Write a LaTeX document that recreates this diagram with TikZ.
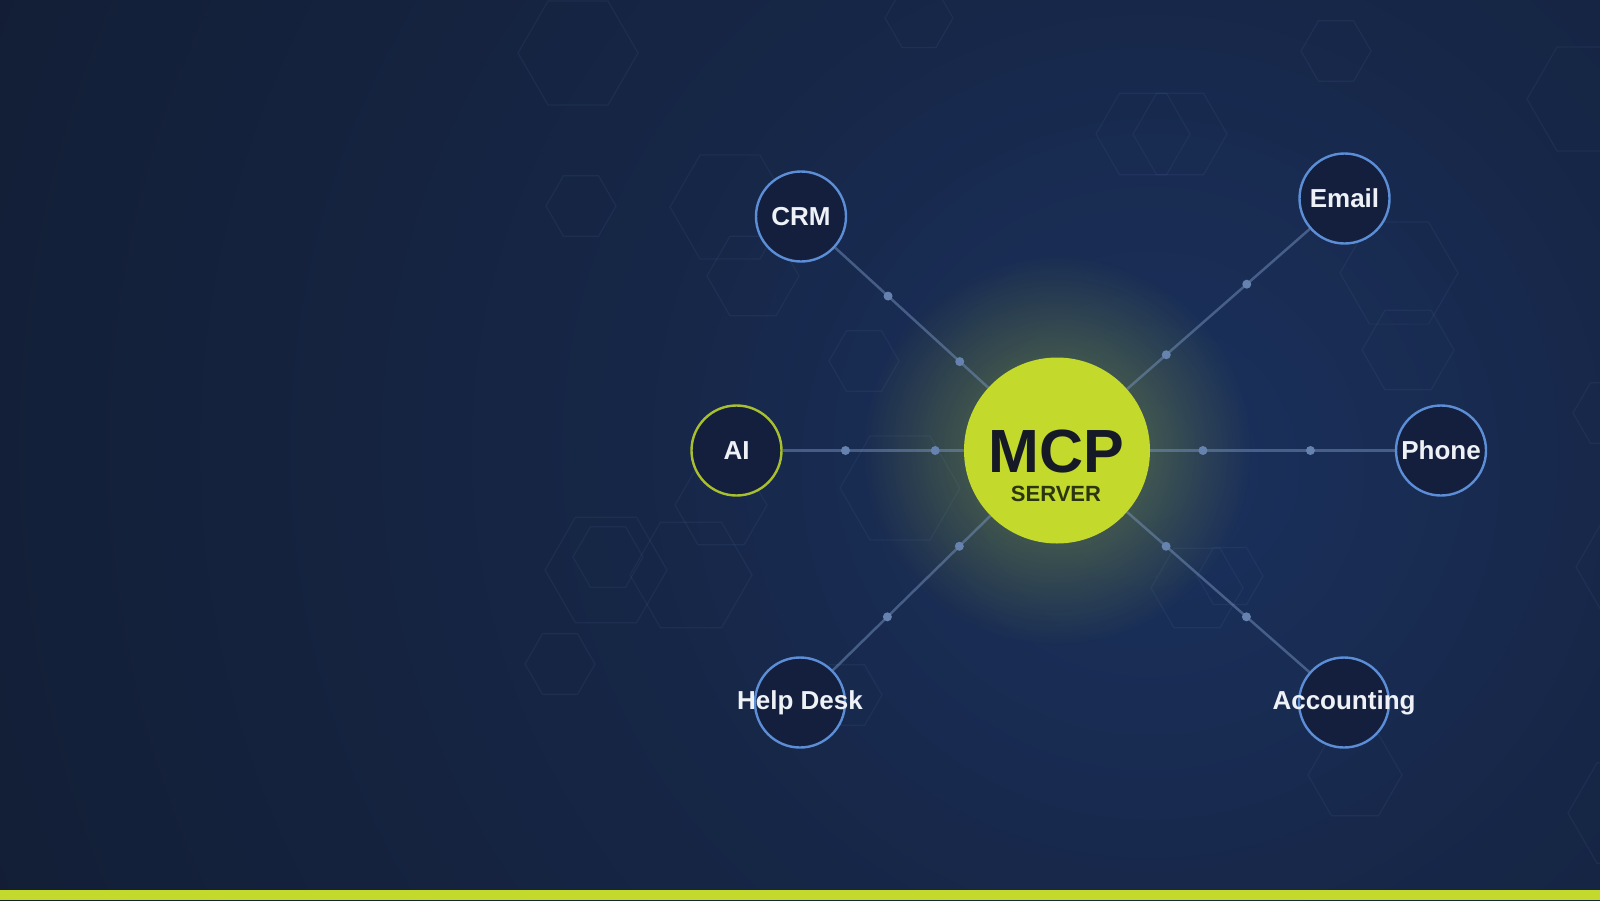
\documentclass[tikz,border=0pt]{standalone}
\usepackage{fontspec}
\setmainfont{Liberation Sans}
\usetikzlibrary{fadings,calc}
\definecolor{bgdark}{HTML}{0F1727}
\definecolor{bgmid}{HTML}{192C52}
\definecolor{bgglow}{HTML}{1D3668}
\definecolor{lime}{HTML}{C3DA2C}
\definecolor{nodefill}{HTML}{131F3D}
\definecolor{nodeblue}{HTML}{5B8ED6}
\definecolor{aiborder}{HTML}{A9C02E}
\definecolor{labelwhite}{HTML}{EEF1F6}
\definecolor{linecol}{HTML}{7F9CC8}
\definecolor{dotcol}{HTML}{6682AE}
\definecolor{hexcol}{HTML}{5B7BB0}
\definecolor{mcpdark}{HTML}{161A26}
\definecolor{srvdark}{HTML}{2B3611}
\tikzfading[name=softglow, inner color=transparent!0, outer color=transparent!100]
\tikzset{
  svc/.style={circle, minimum size=90pt, inner sep=0pt, fill=nodefill, draw=nodeblue,
    line width=2.4pt, text=labelwhite, font=\bfseries\fontsize{26}{26}\selectfont,
    text height=18.6pt, text depth=1.6pt},
  svclow/.style={svc, text depth=5.6pt},
  aisvc/.style={svc, draw=aiborder},
  mcpnode/.style={circle, minimum size=186pt, inner sep=0pt, fill=lime},
  conn/.style={draw=linecol, draw opacity=0.45, line width=2.5pt},
  dotn/.style={circle, fill=dotcol, minimum size=9pt, inner sep=0pt},
  hexline/.style={draw=hexcol, draw opacity=0.11, line width=1.2pt},
}
\newcommand{\hexo}[3]{\draw[hexline] (#1,#2) +(0:#3) -- +(60:#3) -- +(120:#3) -- +(180:#3) -- +(240:#3) -- +(300:#3) -- cycle;}
\begin{document}
\begin{tikzpicture}[x=1pt,y=-1pt]
\useasboundingbox (0,0) rectangle (1600,900);
% background
\fill[bgdark] (0,0) rectangle (1600,900);
\begin{scope}
  \clip (0,0) rectangle (1600,900);
  \shade[inner color=bgmid, outer color=bgdark] (1150,450) circle (1900);
  \fill[bgglow, path fading=softglow, opacity=0.5] (1150,470) circle (520);
  % hexagons
  \hexo{578}{53}{60}
  \hexo{581}{206}{35}
  \hexo{730}{207}{60}
  \hexo{753}{276}{46}
  \hexo{919}{18}{34}
  \hexo{1143}{134}{47}
  \hexo{1180}{134}{47}
  \hexo{1336}{51}{35}
  \hexo{1587}{99}{60}
  \hexo{1399}{273}{59}
  \hexo{1408}{350}{46}
  \hexo{606}{570}{61}
  \hexo{608}{557}{35}
  \hexo{691}{575}{61}
  \hexo{560}{664}{35}
  \hexo{900}{488}{60}
  \hexo{721}{505}{46}
  \hexo{847}{695}{35}
  \hexo{864}{361}{35}
  \hexo{1197}{588}{46}
  \hexo{1230}{576}{33}
  \hexo{1355}{775}{47}
  \hexo{1608}{413}{35}
  \hexo{1624}{567}{48}
  \hexo{1626}{813}{58}
  % green glow
  \fill[lime, path fading=softglow, opacity=0.42] (1057,450.5) circle (195);
\end{scope}
% nodes
\node[mcpnode] (mcp) at (1057,450.5) {};
\node[font=\bfseries\fontsize{61}{61}\selectfont, text=mcpdark, anchor=base, inner sep=0pt, text depth=0pt] (mcpt) at (1056,472) {MCP};
\node[font=\bfseries\fontsize{22}{22}\selectfont, text=srvdark, anchor=base, inner sep=0pt, text depth=0pt] (srv) at (1056,501) {SERVER};
\node[svc] (crm) at (801,216.5) {\makebox[0pt]{CRM}};
\node[svc] (email) at (1344.5,198.5) {\makebox[0pt]{Email}};
\node[aisvc] (ai) at (736.5,450.5) {\makebox[0pt]{AI}};
\node[svc] (phone) at (1441,450.5) {\makebox[0pt]{Phone}};
\node[svclow] (help) at (800,702.5) {\makebox[0pt]{Help Desk}};
\node[svclow] (acct) at (1344,702.5) {\makebox[0pt]{Accounting}};
% connectors
\foreach \n in {crm,email,ai,phone,help,acct}{
  \draw[conn] (\n) -- (mcp);
  \node[dotn] (\n-d1) at ($(\n.center)!0.34!(mcp.center)$) {};
  \node[dotn] (\n-d2) at ($(\n.center)!0.62!(mcp.center)$) {};
}
% bottom bar
\fill[lime] (0,890) rectangle (1600,900);
\end{tikzpicture}
\end{document}
